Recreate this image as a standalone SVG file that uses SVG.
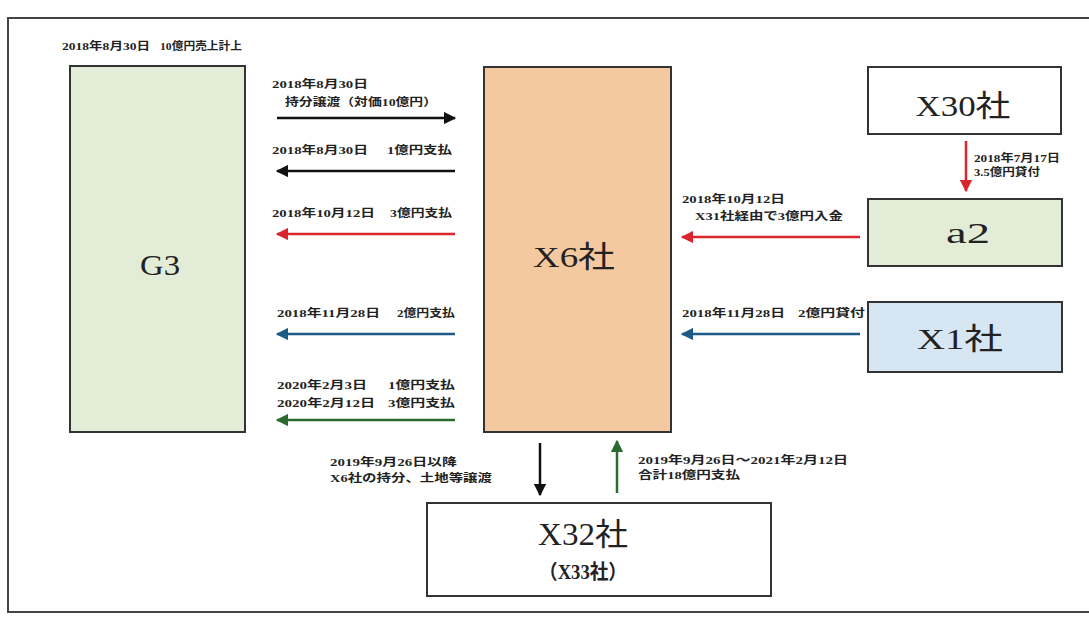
<svg xmlns="http://www.w3.org/2000/svg" width="1089" height="621" viewBox="0 0 1089 621">
<defs>
<style>
.t{font-family:"Liberation Serif","Noto Sans CJK JP",serif;font-weight:bold;font-size:11px;fill:#222}
.big{font-family:"Liberation Serif","Noto Sans CJK JP",serif;font-size:30px;fill:#222;text-anchor:middle}
.box{stroke:#333;stroke-width:2}
.ln{stroke-width:2.5;fill:none}
</style>
<marker id="mk" viewBox="0 0 10 10" refX="9" refY="5" markerWidth="5" markerHeight="5" orient="auto"><path d="M0,0L10,5L0,10z" fill="#111"/></marker>
<marker id="mr" viewBox="0 0 10 10" refX="9" refY="5" markerWidth="5" markerHeight="5" orient="auto"><path d="M0,0L10,5L0,10z" fill="#d9262c"/></marker>
<marker id="mb" viewBox="0 0 10 10" refX="9" refY="5" markerWidth="5" markerHeight="5" orient="auto"><path d="M0,0L10,5L0,10z" fill="#1d5a86"/></marker>
<marker id="mg" viewBox="0 0 10 10" refX="9" refY="5" markerWidth="5" markerHeight="5" orient="auto"><path d="M0,0L10,5L0,10z" fill="#2c6b30"/></marker>
</defs>
<rect width="1089" height="621" fill="#fff"/>
<rect x="8" y="18" width="1090" height="594" fill="none" stroke="#444" stroke-width="2"/>

<text class="t" x="62" y="50" textLength="88" lengthAdjust="spacingAndGlyphs">2018年8月30日</text>
<text class="t" x="160" y="50" textLength="82" lengthAdjust="spacingAndGlyphs">10億円売上計上</text>

<g id="G3"><rect class="box" x="70" y="66" width="175" height="366" fill="#e3ecd6"/><text class="big" x="160" y="275" textLength="40" lengthAdjust="spacingAndGlyphs">G3</text></g>
<g id="X6"><rect class="box" x="484" y="67" width="187" height="365" fill="#f5c9a0"/><text class="big" x="574" y="267" textLength="82" lengthAdjust="spacingAndGlyphs">X6社</text></g>
<g id="X30"><rect class="box" x="868" y="67" width="193" height="67" fill="#fff"/><text class="big" x="963" y="116" textLength="95" lengthAdjust="spacingAndGlyphs">X30社</text></g>
<g id="a2"><rect class="box" x="868" y="199" width="194" height="67" fill="#e3ecd6"/><text class="big" x="968" y="243" textLength="44" lengthAdjust="spacingAndGlyphs">a2</text></g>
<g id="X1"><rect class="box" x="868" y="302" width="194" height="70" fill="#d6e6f3"/><text class="big" x="960" y="349" textLength="86" lengthAdjust="spacingAndGlyphs">X1社</text></g>
<g id="X32"><rect class="box" x="427" y="503" width="344" height="93" fill="#fff"/><text class="big" x="583" y="545" style="font-size:31px" textLength="90" lengthAdjust="spacingAndGlyphs">X32社</text><text class="big" x="583" y="579" style="font-size:20px;font-weight:bold" textLength="88" lengthAdjust="spacingAndGlyphs">（X33社）</text></g>

<g id="connectors">
<line class="ln" x1="277" y1="118" x2="455" y2="118" stroke="#111" marker-end="url(#mk)"/>
<line class="ln" x1="455" y1="171" x2="277" y2="171" stroke="#111" marker-end="url(#mk)"/>
<line class="ln" x1="455" y1="234" x2="277" y2="234" stroke="#d9262c" marker-end="url(#mr)"/>
<line class="ln" x1="455" y1="334" x2="277" y2="334" stroke="#1d5a86" marker-end="url(#mb)"/>
<line class="ln" x1="455" y1="420" x2="277" y2="420" stroke="#2c6b30" marker-end="url(#mg)"/>
<line class="ln" x1="860" y1="237" x2="682" y2="237" stroke="#d9262c" marker-end="url(#mr)"/>
<line class="ln" x1="860" y1="334" x2="682" y2="334" stroke="#1d5a86" marker-end="url(#mb)"/>
<line class="ln" x1="966" y1="141" x2="966" y2="191" stroke="#d9262c" marker-end="url(#mr)"/>
<line class="ln" x1="540" y1="443" x2="540" y2="495" stroke="#111" marker-end="url(#mk)"/>
<line class="ln" x1="617" y1="493" x2="617" y2="441" stroke="#2c6b30" marker-end="url(#mg)"/>

<text class="t" x="272" y="88" textLength="96" lengthAdjust="spacingAndGlyphs">2018年8月30日</text>
<text class="t" x="285" y="106" textLength="152" lengthAdjust="spacingAndGlyphs">持分譲渡（対価10億円）</text>
<text class="t" x="272" y="154" textLength="96" lengthAdjust="spacingAndGlyphs">2018年8月30日</text>
<text class="t" x="387" y="154" textLength="65" lengthAdjust="spacingAndGlyphs">1億円支払</text>
<text class="t" x="272" y="217" textLength="103" lengthAdjust="spacingAndGlyphs">2018年10月12日</text>
<text class="t" x="390" y="217" textLength="62" lengthAdjust="spacingAndGlyphs">3億円支払</text>
<text class="t" x="277" y="317" textLength="103" lengthAdjust="spacingAndGlyphs">2018年11月28日</text>
<text class="t" x="397" y="317" textLength="58" lengthAdjust="spacingAndGlyphs">2億円支払</text>
<text class="t" x="277" y="389" textLength="90" lengthAdjust="spacingAndGlyphs">2020年2月3日</text>
<text class="t" x="388" y="389" textLength="67" lengthAdjust="spacingAndGlyphs">1億円支払</text>
<text class="t" x="277" y="407" textLength="98" lengthAdjust="spacingAndGlyphs">2020年2月12日</text>
<text class="t" x="388" y="407" textLength="67" lengthAdjust="spacingAndGlyphs">3億円支払</text>
<text class="t" x="682" y="203" textLength="103" lengthAdjust="spacingAndGlyphs">2018年10月12日</text>
<text class="t" x="695" y="220" textLength="148" lengthAdjust="spacingAndGlyphs">X31社経由で3億円入金</text>
<text class="t" x="682" y="317" textLength="103" lengthAdjust="spacingAndGlyphs">2018年11月28日</text>
<text class="t" x="798" y="317" textLength="67" lengthAdjust="spacingAndGlyphs">2億円貸付</text>
<text class="t" x="974" y="162" textLength="86" lengthAdjust="spacingAndGlyphs">2018年7月17日</text>
<text class="t" x="974" y="176" textLength="66" lengthAdjust="spacingAndGlyphs">3.5億円貸付</text>
<text class="t" x="330" y="466" textLength="127" lengthAdjust="spacingAndGlyphs">2019年9月26日以降</text>
<text class="t" x="330" y="482" textLength="162" lengthAdjust="spacingAndGlyphs">X6社の持分、土地等譲渡</text>
<text class="t" x="638" y="464" textLength="210" lengthAdjust="spacingAndGlyphs">2019年9月26日～2021年2月12日</text>
<text class="t" x="638" y="479" textLength="102" lengthAdjust="spacingAndGlyphs">合計18億円支払</text>
</g>
</svg>
